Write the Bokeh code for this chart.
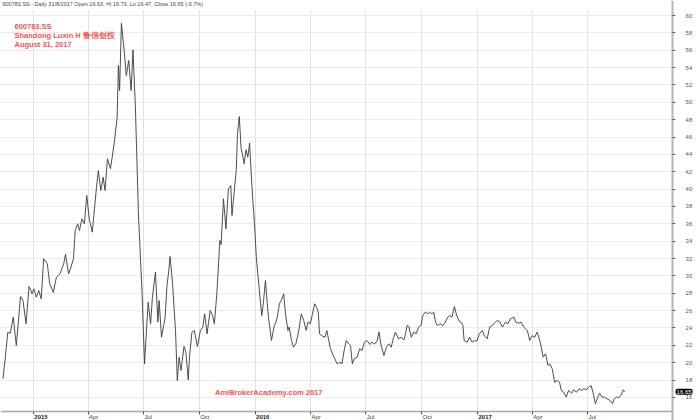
import pandas as pd
from bokeh.plotting import figure
from bokeh.models import FixedTicker, Label, Range1d, ColumnDataSource, BoxAnnotation
from bokeh.embed import file_html
from bokeh.resources import INLINE

# ---------------- data ----------------
dates = [
    "2014-11-12", "2014-11-16", "2014-11-20", "2014-11-24", "2014-11-29",
    "2014-12-04", "2014-12-11", "2014-12-15", "2014-12-20", "2014-12-25", "2014-12-30",
    "2015-01-02", "2015-01-06", "2015-01-10", "2015-01-14", "2015-01-18", "2015-01-24", "2015-01-28",
    "2015-02-03", "2015-02-08", "2015-02-14", "2015-02-20", "2015-02-23", "2015-02-28",
    "2015-03-04", "2015-03-08", "2015-03-11", "2015-03-15", "2015-03-18", "2015-03-22", "2015-03-26", "2015-03-30",
    "2015-04-03", "2015-04-08", "2015-04-15", "2015-04-18", "2015-04-22", "2015-04-26", "2015-04-29",
    "2015-05-03", "2015-05-08", "2015-05-14", "2015-05-19", "2015-05-21", "2015-05-23", "2015-05-26", "2015-05-31",
    "2015-06-03", "2015-06-07", "2015-06-11", "2015-06-14", "2015-06-18", "2015-06-23", "2015-06-29",
    "2015-07-03", "2015-07-09", "2015-07-13", "2015-07-16", "2015-07-21", "2015-07-25", "2015-07-27", "2015-07-31",
    "2015-08-03", "2015-08-06", "2015-08-09", "2015-08-12", "2015-08-14", "2015-08-18", "2015-08-23", "2015-08-26", "2015-08-29",
    "2015-09-01", "2015-09-06", "2015-09-09", "2015-09-13", "2015-09-15", "2015-09-19", "2015-09-23", "2015-09-28",
    "2015-10-03", "2015-10-07", "2015-10-10", "2015-10-14", "2015-10-19", "2015-10-23", "2015-10-26", "2015-10-30",
    "2015-11-04", "2015-11-06", "2015-11-10", "2015-11-14", "2015-11-18", "2015-11-22", "2015-11-24", "2015-11-27",
    "2015-12-01", "2015-12-03", "2015-12-06", "2015-12-09", "2015-12-11", "2015-12-14", "2015-12-17", "2015-12-20",
    "2015-12-23", "2015-12-25", "2015-12-28", "2015-12-31",
    "2016-01-03", "2016-01-06", "2016-01-10", "2016-01-12", "2016-01-15", "2016-01-18", "2016-01-21", "2016-01-23", "2016-01-28",
    "2016-02-01", "2016-02-06", "2016-02-10", "2016-02-13", "2016-02-17", "2016-02-20", "2016-02-24", "2016-02-26",
    "2016-03-01", "2016-03-04", "2016-03-08", "2016-03-13", "2016-03-17", "2016-03-21", "2016-03-25", "2016-03-28",
    "2016-04-01", "2016-04-05", "2016-04-08", "2016-04-11", "2016-04-14", "2016-04-16", "2016-04-20", "2016-04-25", "2016-04-28",
    "2016-05-04", "2016-05-09", "2016-05-15", "2016-05-19", "2016-05-23", "2016-05-26", "2016-05-30",
    "2016-06-03", "2016-06-06", "2016-06-09", "2016-06-12", "2016-06-17", "2016-06-21", "2016-06-25", "2016-06-29",
    "2016-07-03", "2016-07-08", "2016-07-11", "2016-07-16", "2016-07-20", "2016-07-23", "2016-07-26", "2016-07-31",
    "2016-08-04", "2016-08-08", "2016-08-12", "2016-08-16", "2016-08-19", "2016-08-24", "2016-08-28",
    "2016-09-02", "2016-09-04", "2016-09-07", "2016-09-10", "2016-09-14", "2016-09-18", "2016-09-22", "2016-09-26", "2016-09-30",
    "2016-10-03", "2016-10-07", "2016-10-11", "2016-10-14", "2016-10-18", "2016-10-21", "2016-10-24", "2016-10-27",
    "2016-11-01", "2016-11-05", "2016-11-09", "2016-11-13", "2016-11-16", "2016-11-20", "2016-11-24", "2016-11-27",
    "2016-12-01", "2016-12-05", "2016-12-08", "2016-12-10", "2016-12-15", "2016-12-19", "2016-12-23", "2016-12-27", "2016-12-31",
    "2017-01-04", "2017-01-09", "2017-01-12", "2017-01-17", "2017-01-21", "2017-01-25", "2017-01-29",
    "2017-02-02", "2017-02-07", "2017-02-11", "2017-02-16", "2017-02-20", "2017-02-24",
    "2017-03-02", "2017-03-05", "2017-03-10", "2017-03-14", "2017-03-18", "2017-03-24", "2017-03-28",
    "2017-04-01", "2017-04-05", "2017-04-09", "2017-04-12", "2017-04-16", "2017-04-19", "2017-04-23", "2017-04-27", "2017-04-30",
    "2017-05-04", "2017-05-08", "2017-05-12", "2017-05-16", "2017-05-19", "2017-05-23", "2017-05-27", "2017-05-31",
    "2017-06-05", "2017-06-08", "2017-06-13", "2017-06-17", "2017-06-21", "2017-06-25", "2017-06-29",
    "2017-07-03", "2017-07-07", "2017-07-10", "2017-07-14", "2017-07-18", "2017-07-21", "2017-07-25", "2017-07-29",
    "2017-08-02", "2017-08-07", "2017-08-11", "2017-08-14", "2017-08-18", "2017-08-21", "2017-08-25", "2017-08-29", "2017-08-31",
]

close = [
    18.14, 20.64, 23.5, 23.4, 25.24,
    21.98, 27.63, 27.17, 24.48, 28.78, 27.94,
    28.5, 27.55, 28.3, 27.36, 31.97, 31.4, 29.09,
    28.1, 29.85, 30.24, 31.4, 32.47, 30.24,
    31.0, 31.97, 35.23, 36.0, 35.23, 36.58, 36.0, 39.26,
    36.58, 35.04, 40.22, 42.14, 39.84, 41.37, 39.84,
    43.49, 42.34, 45.22, 48.29, 54.24, 51.36, 59.11, 55.59,
    53.09, 54.82, 51.36, 56.05, 49.44, 37.15, 27.94,
    19.87, 26.97, 24.48, 27.55, 30.43, 24.67, 27.17, 22.94,
    24.1, 25.24, 28.9, 30.62, 32.24, 29.28, 23.71, 17.95, 20.64,
    19.1, 21.87, 21.21, 18.03, 20.64, 23.5, 23.71, 21.87,
    23.71, 24.1, 25.63, 23.33, 26.01, 25.44, 24.48, 27.94,
    34.08, 33.6, 38.88, 35.43, 40.03, 40.41, 36.96, 39.26,
    42.14, 46.37, 48.36, 44.64, 44.07, 42.92, 44.53, 43.68,
    45.29, 42.52, 39.07, 36.0,
    32.16, 29.85, 26.79, 25.44, 27.17, 29.47, 26.79, 25.24, 22.56,
    24.1, 25.05, 26.79, 27.17, 27.94, 25.63, 23.71, 24.1,
    22.56, 21.79, 22.17, 23.71, 25.63, 24.86, 23.71, 24.67,
    24.48, 25.82, 26.79, 26.4, 25.82, 23.33, 23.1, 22.94, 23.71,
    21.6, 20.8, 19.87, 20.06, 19.87, 21.21, 22.56,
    22.17, 21.98, 19.87, 20.45, 20.64, 21.6, 21.41, 22.36,
    22.56, 22.1, 22.36, 22.17, 22.56, 23.52, 22.1, 20.83,
    21.79, 22.17, 21.79, 22.94, 23.52, 22.75, 22.94,
    22.64, 23.13, 24.29, 24.17, 22.94, 23.52, 23.33, 24.1, 24.29,
    25.44, 25.82, 25.63, 25.82, 25.63, 25.82, 24.67, 24.29,
    24.48, 24.29, 24.67, 25.24, 25.44, 25.24, 26.47, 25.63,
    24.86, 24.67, 24.29, 22.56, 22.36, 22.94, 22.36, 22.56, 22.48,
    23.33, 23.71, 23.13, 22.75, 24.1, 24.29, 24.55,
    24.86, 24.67, 24.1, 24.67, 24.48, 25.05,
    25.24, 24.67, 24.55, 24.67, 24.1, 23.71, 22.56,
    23.13, 22.94, 23.52, 22.94, 21.79, 20.64, 21.02, 19.68, 19.87,
    19.3, 17.75, 17.95, 17.75, 16.8, 16.6, 16.03, 16.8,
    16.49, 16.88, 16.6, 17.0, 16.8, 17.0, 16.88,
    17.18, 17.37, 16.6, 15.27, 16.03, 16.49, 16.03, 16.03,
    15.84, 15.65, 15.27, 15.84, 16.03, 15.96, 16.22, 16.88, 16.65,
]
assert len(dates) == len(close)

tick_dates = ["2015-01-01", "2015-04-01", "2015-07-01", "2015-10-01",
              "2016-01-01", "2016-04-01", "2016-07-01", "2016-10-01",
              "2017-01-01", "2017-04-01", "2017-07-01"]
tick_labels = ["2015", "Apr", "Jul", "Oct", "2016", "Apr", "Jul", "Oct", "2017", "Apr", "Jul"]
y_ticks = list(range(16, 61, 2))

header = "600783.SS - Daily 31/8/2017 Open 16.63, Hi 16.73, Lo 16.47, Close 16.65 (-0.7%)"
title_lines = ["600783.SS", "Shandong Luxin H 鲁信创投", "August 31, 2017"]
watermark = "AmiBrokerAcademy.com  2017"
last_close = close[-1]

# ---------------- layout constants ----------------
def ms(d):
    return pd.Timestamp(d).value / 1e6

x_start, x_end = ms("2014-11-08"), ms("2018-01-03")   # whole canvas width
x_axis_at = ms("2017-11-18")                          # where the price axis sits
y_start, y_end = 13.34, 61.73                         # whole canvas height
y_axis_at = 14.38                                     # where the date axis sits
grid_top = 60.58                                      # grid starts below the header strip

src = ColumnDataSource(dict(date=pd.to_datetime(dates), close=close))

p = figure(width=700, height=420, x_axis_type="datetime", y_axis_location="right",
           x_range=Range1d(x_start, x_end), y_range=Range1d(y_start, y_end),
           output_backend="svg", toolbar_location=None)
p.min_border_top = 0
p.min_border_left = 0
p.min_border_bottom = 0
p.min_border_right = 0
p.outline_line_color = None
p.background_fill_color = "white"
p.border_fill_color = "white"

tick_ms = [ms(d) for d in tick_dates]

# date axis (drawn at a fixed place inside the canvas)
p.xaxis.fixed_location = y_axis_at
p.xaxis.bounds = (x_start, x_axis_at)
p.xaxis.ticker = FixedTicker(ticks=tick_ms)
p.xaxis.major_label_overrides = {t: "" for t in tick_ms}
p.xaxis.axis_line_color = "#a8a8a8"
p.xaxis.axis_line_width = 1.5
p.xaxis.major_tick_out = 3
p.xaxis.major_tick_in = 0
p.xaxis.major_tick_line_color = "#505050"
p.xaxis.minor_tick_line_color = None
p.xaxis.major_label_text_font_size = "6px"

# price axis on the right
p.yaxis.fixed_location = x_axis_at
p.yaxis.ticker = FixedTicker(ticks=y_ticks)
p.yaxis.axis_line_color = "#b4b4b4"
p.yaxis.axis_line_width = 2
p.yaxis.major_tick_out = 3
p.yaxis.major_tick_in = 0
p.yaxis.major_tick_line_color = "#606060"
p.yaxis.minor_tick_line_color = None
p.yaxis.major_label_text_font_size = "6px"
p.yaxis.major_label_text_font = "Liberation Sans"
p.yaxis.major_label_text_color = "#555555"
p.yaxis.major_label_standoff = 10

p.xgrid.grid_line_color = "#e2e2e2"
p.ygrid.grid_line_color = "#ebebeb"

# white strips that stop the grid at the axes and below the header
for box in (BoxAnnotation(bottom=grid_top), BoxAnnotation(top=y_axis_at),
            BoxAnnotation(left=x_axis_at)):
    box.fill_color = "white"
    box.fill_alpha = 1.0
    box.line_color = None
    box.level = "underlay"
    p.add_layout(box)

p.line(x="date", y="close", source=src, line_color="#3a3a3a", line_width=0.9)

# date labels, left-aligned just after each tick, years in bold
for t, lab in zip(tick_ms, tick_labels):
    bold = lab.isdigit()
    p.add_layout(Label(x=t, y=13.80, text=lab, x_offset=1,
                       text_font="Liberation Sans", text_font_size="6px",
                       text_font_style="bold" if bold else "normal",
                       text_color="#222222" if bold else "#444444",
                       text_align="left", text_baseline="middle"))

# header line
p.add_layout(Label(x=x_start, y=y_end, text=header, x_offset=2,
                   text_font="Liberation Sans", text_font_size="5.5px",
                   text_color="#444444", text_align="left", text_baseline="top"))

# red title block
for i, line in enumerate(title_lines):
    p.add_layout(Label(x=x_start, y=58.73 - i * 1.04, text=line, x_offset=14,
                       text_font="Liberation Sans", text_font_size="7.5px",
                       text_font_style="bold", text_color="#f05555",
                       text_align="left", text_baseline="middle"))

# watermark
p.add_layout(Label(x=ms("2015-10-27"), y=16.6, text=watermark,
                   text_font="Liberation Sans", text_font_size="7.5px",
                   text_font_style="bold", text_color="#f05555",
                   text_align="left", text_baseline="middle"))

# last value marker just right of the price axis
p.add_layout(Label(x=x_axis_at, y=last_close, text=f"{last_close:.2f}", x_offset=3,
                   text_font="Liberation Sans", text_font_size="6px",
                   text_color="white", text_align="left", text_baseline="middle",
                   background_fill_color="black", padding=1, border_radius=2))

open("out.html", "w").write(file_html(p, INLINE))
